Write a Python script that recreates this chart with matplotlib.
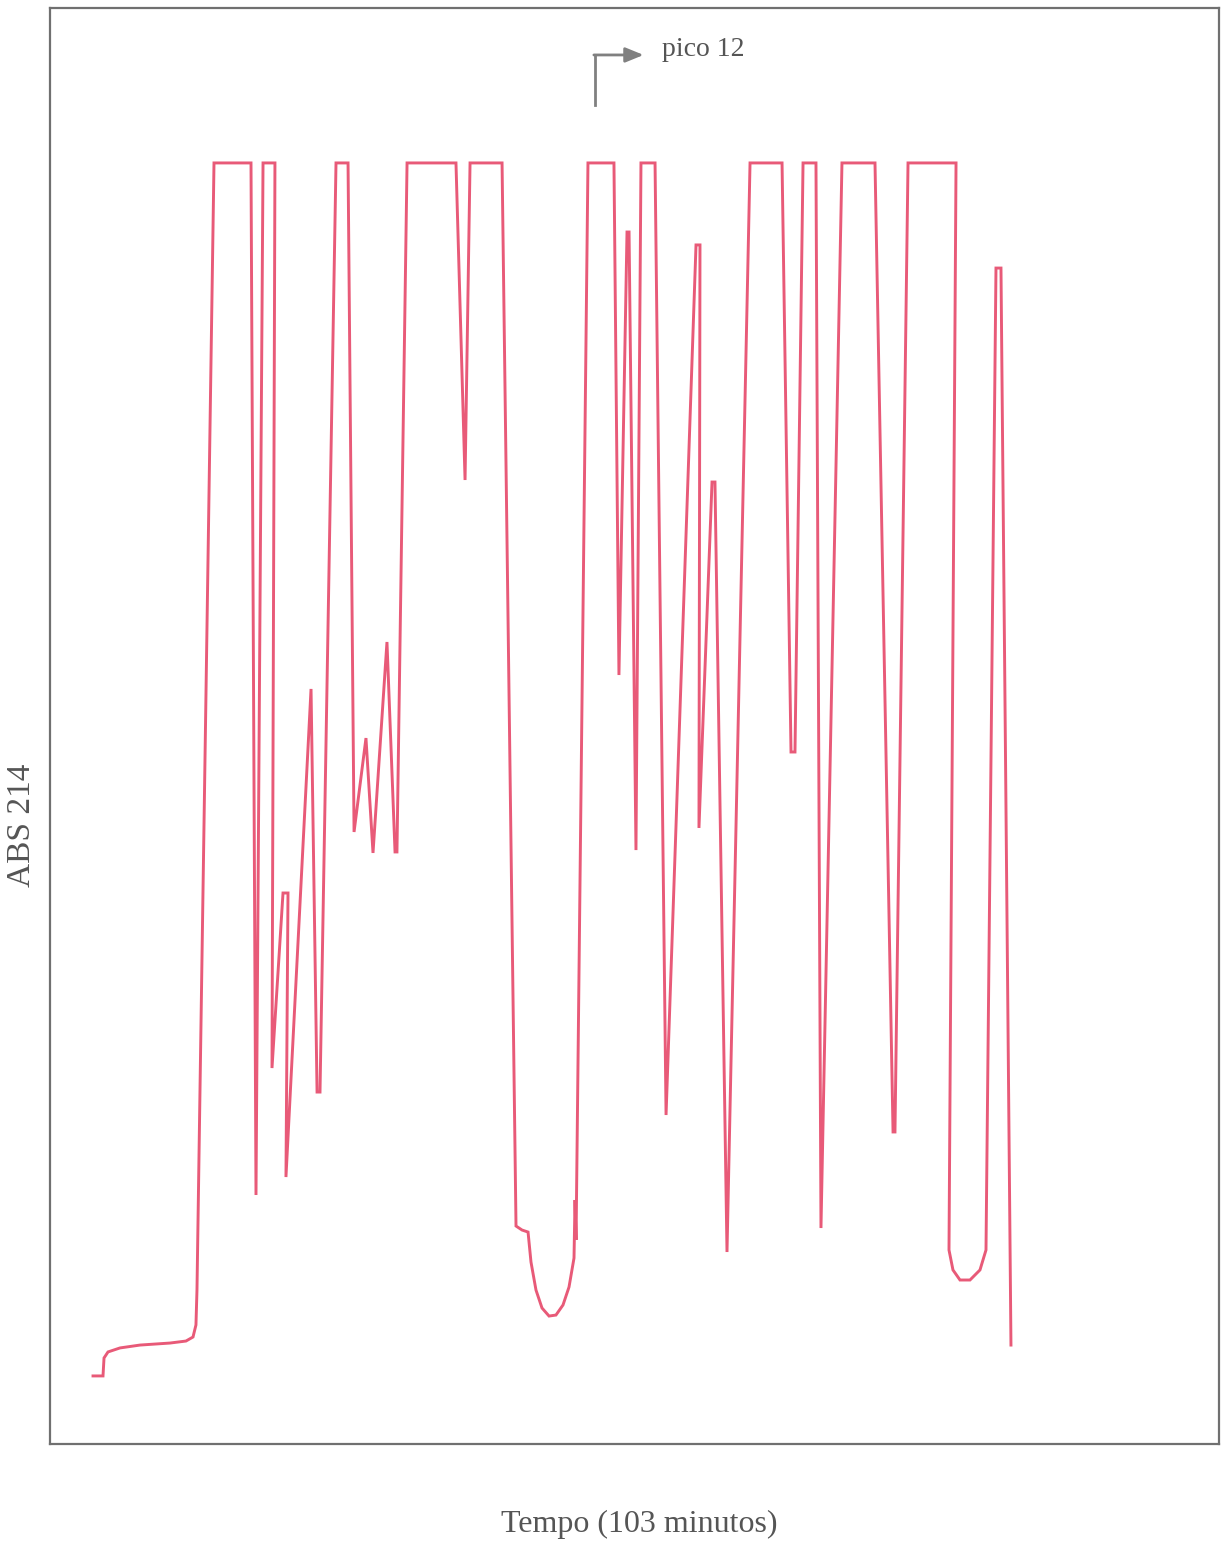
import matplotlib
matplotlib.use("Agg")
import matplotlib.pyplot as plt

# Chromatogram trace: time (min) vs absorbance (arbitrary units, 0-100)
tempo = [3.79, 4.67, 4.76, 5.11, 6.17, 7.93, 10.57, 11.98, 12.60, 12.86, 12.95,
         14.45, 17.71, 18.15, 18.77, 19.82, 19.56, 20.53, 20.97, 20.79, 23.00,
         23.53, 23.79, 25.20, 26.26, 26.79, 27.84, 28.46, 29.69, 30.40, 30.57,
         31.46, 35.77, 36.57, 37.01, 39.83, 41.06, 41.59, 42.12, 42.38, 42.82,
         43.35, 43.97, 44.58, 45.20, 45.73, 46.17, 46.26, 46.35, 47.40, 49.69,
         50.13, 50.84, 51.02, 51.63, 52.07, 53.31, 54.28, 56.92, 57.27, 57.18,
         58.33, 58.59, 59.65, 61.68, 64.50, 65.29, 65.64, 66.35, 67.49, 67.93,
         69.78, 72.69, 74.28, 74.45, 75.60, 79.83, 79.21, 79.56, 80.18, 81.06,
         81.94, 82.47, 83.35, 83.79, 84.67]
absorbancia = [4.74, 4.74, 5.99, 6.41, 6.69, 6.89, 7.03, 7.17, 7.45, 8.29, 10.72,
               89.21, 89.21, 17.34, 89.21, 89.21, 26.18, 38.37, 38.37, 18.59, 52.58,
               24.51, 24.51, 89.21, 89.21, 42.62, 49.16, 41.16, 55.85, 41.23, 41.23,
               89.21, 89.21, 67.13, 89.21, 89.21, 15.18, 14.90, 14.76, 12.67, 10.72,
               9.47, 8.91, 8.98, 9.68, 10.93, 12.95, 16.99, 14.21, 89.21, 89.21,
               53.55, 84.40, 84.40, 41.36, 89.21, 89.21, 22.91, 83.50, 83.50, 42.90,
               66.99, 66.99, 13.37, 89.21, 89.21, 48.19, 48.19, 89.21, 89.21, 15.04,
               89.21, 89.21, 21.73, 21.73, 89.21, 89.21, 13.51, 12.12, 11.42, 11.42,
               12.12, 13.51, 81.89, 81.89, 6.89]

# annotation "pico 12"
seta_x = [48.02, 48.02, 52.3]
seta_y = [93.25, 96.73, 96.73]
rotulo_pico = "pico 12"
rotulo_x = "Tempo (103 minutos)"
rotulo_y = "ABS 214"

serif = ["Liberation Serif", "DejaVu Serif"]

fig = plt.figure(figsize=(12.23, 15.48), dpi=100)
ax = fig.add_axes([50 / 1223, 1 - 1444 / 1548, 1169 / 1223, 1436 / 1548])
ax.plot(tempo, absorbancia, color="#E85A78", lw=2.1, solid_joinstyle="miter")
ax.set_xlim(0, 103)
ax.set_ylim(0, 100)
ax.set_xticks([])
ax.set_yticks([])
for s in ax.spines.values():
    s.set_color("#707070")
    s.set_linewidth(1.6)

# arrow to pico 12
ax.plot(seta_x[:2], seta_y[:2], color="#808080", lw=2)
ax.annotate("", xy=(seta_x[2], seta_y[2]), xytext=(seta_x[1] - 0.1, seta_y[1]),
            arrowprops=dict(arrowstyle="-|>,head_length=1.1,head_width=0.45",
                            color="#808080", lw=2, shrinkA=0, shrinkB=0))
ax.text(53.9, 97.1, rotulo_pico, fontsize=20, family=serif, color="#555555",
        va="center", ha="left")

fig.text(0.523, 0.0149, rotulo_x, fontsize=23, family=serif, color="#555555",
         ha="center", va="center")
fig.text(0.018, 0.467, rotulo_y, fontsize=24, family=serif, color="#555555",
         ha="center", va="center", rotation=90)

fig.savefig("out.png", dpi=100)
